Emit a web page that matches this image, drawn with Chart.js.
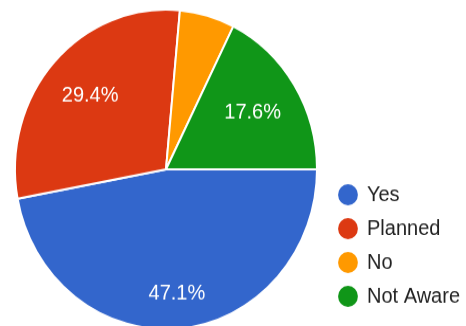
<!DOCTYPE html>
<html>
<head>
<meta charset="utf-8">
<script src="https://cdn.jsdelivr.net/npm/chart.js@4/dist/chart.umd.min.js"></script>
<style>
  html, body { margin: 0; padding: 0; background: #fff; overflow: hidden; }
  #wrap { width: 466px; height: 326px; overflow: hidden; }
  /* the reference is slightly taller than wide, so stretch the drawing */
  #pie { display: block; transform: scaleY(1.0584); transform-origin: 0 0; }
</style>
</head>
<body>
<div id="wrap"><canvas id="pie" width="466" height="312"></canvas></div>
<script>
"use strict";

const answers = ["Yes", "Planned", "No", "Not Aware"];
const responses = [8, 5, 1, 3];
const sliceColors = ["#3366cc", "#dc3912", "#ff9900", "#109618"];

// percent labels drawn inside the slices, like Google Forms does
const sliceLabels = {
  id: "sliceLabels",
  afterDatasetsDraw(chart, args, opts) {
    const ctx = chart.ctx;
    const arcs = chart.getDatasetMeta(0).data;
    const values = chart.data.datasets[0].data;
    const total = values.reduce((a, b) => a + b, 0);
    ctx.save();
    ctx.fillStyle = "#fff";
    ctx.font = "20px 'Liberation Sans', Arial, sans-serif";
    ctx.textAlign = "center";
    ctx.textBaseline = "middle";
    arcs.forEach((arc, i) => {
      const pct = values[i] / total * 100;
      if (pct < 10) return;
      const { x, y, startAngle, endAngle, outerRadius } = arc.getProps(["x", "y", "startAngle", "endAngle", "outerRadius"], true);
      const mid = (startAngle + endAngle) / 2;
      const r = outerRadius * opts.radius[i];
      ctx.fillText(pct.toFixed(1) + "%", x + Math.cos(mid) * r, y + Math.sin(mid) * r);
    });
    ctx.restore();
  }
};

new Chart(document.getElementById("pie"), {
  type: "pie",
  data: {
    labels: answers,
    datasets: [
      {
        data: responses,
        backgroundColor: sliceColors,
        borderColor: "#fff",
        borderWidth: 2,
        hoverOffset: 0
      }
    ]
  },
  options: {
    responsive: false,
    animation: false,
    events: [],
    rotation: 90,
    layout: { padding: { left: 5, right: -4, top: 8, bottom: 0 } },
    plugins: {
      tooltip: { enabled: false },
      sliceLabels: { radius: [0.78, 0.68, 0.68, 0.675] },
      legend: {
        position: "right",
        align: "start",
        title: {
          display: true,
          text: " ",
          font: { size: 10 },
          padding: { top: 142, bottom: 0 }
        },
        labels: {
          color: "#222",
          usePointStyle: true,
          pointStyle: "circle",
          boxWidth: 18,
          boxHeight: 14,
          padding: 12,
          font: { family: "'Liberation Sans', Arial, sans-serif", size: 20 },
          generateLabels(chart) {
            return Chart.overrides.pie.plugins.legend.labels.generateLabels(chart)
              .map((item) => ({ ...item, lineWidth: 0 }));
          }
        }
      }
    }
  },
  plugins: [sliceLabels]
});
</script>
</body>
</html>
